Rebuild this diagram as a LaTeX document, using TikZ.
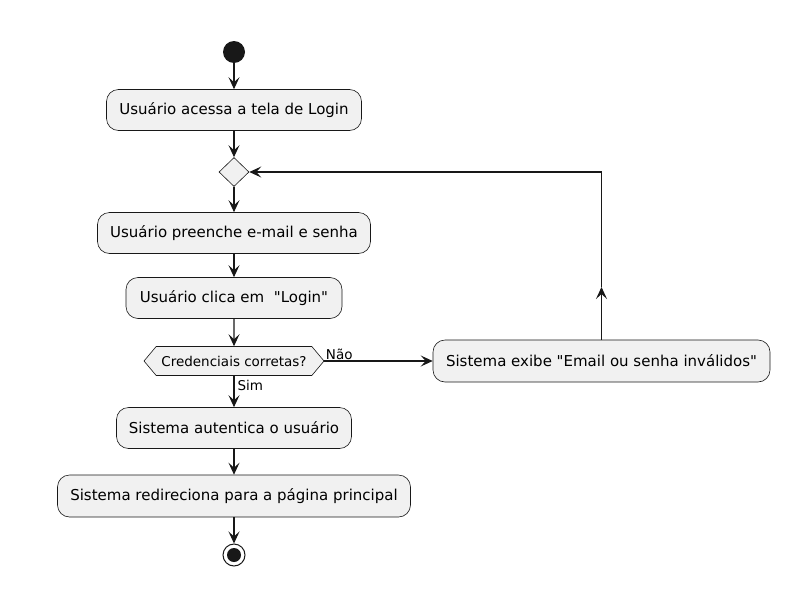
\documentclass[tikz,border=0pt]{standalone}
\usepackage{fontspec}
\setmainfont{DejaVu Sans}
\usetikzlibrary{arrows.meta,shapes.geometric,shapes.misc,shapes.symbols}
\definecolor{boxfill}{HTML}{F1F1F1}
\definecolor{lin}{HTML}{181818}
\tikzset{
  act/.style={draw=lin, fill=boxfill, rounded corners=12pt, line width=0.6pt, minimum height=41pt, inner xsep=0pt, font=\fontsize{15}{18}\selectfont, text=black},
  flow/.style={draw=lin, line width=1.1pt, -{Stealth[length=12pt,width=11pt,inset=5pt]}},
  lbl/.style={font=\fontsize{13.5}{16}\selectfont, inner sep=1pt},
}
\begin{document}
\begin{tikzpicture}[x=1pt,y=-1pt]
\useasboundingbox (0,0) rectangle (808,613);
\node[circle, fill=lin, minimum size=22pt, inner sep=0pt] (start) at (234,52) {};
\node[act, minimum width=255pt] (a1) at (234,110) {Usuário acessa a tela de Login};
\node[diamond, draw=lin, fill=boxfill, line width=0.6pt, minimum width=30pt, minimum height=29pt, inner sep=0pt] (d1) at (234,172) {};
\node[act, minimum width=273pt] (a2) at (234,233) {Usuário preenche e-mail e senha};
\node[act, minimum width=216pt] (a3) at (234,298) {Usuário clica em\ \ \textquotedbl Login\textquotedbl};
\node[draw=lin, fill=boxfill, line width=0.6pt, minimum width=180pt, minimum height=29pt, inner sep=0pt, font=\fontsize{13.5}{16}\selectfont, signal, signal to=east and west, signal pointer angle=100] (c1) at (234,361) {Credenciais corretas?};
\node[act, minimum width=337pt, minimum height=42pt] (a4) at (601.5,361) {Sistema exibe \textquotedbl Email ou senha inválidos\textquotedbl};
\node[act, minimum width=235pt] (a5) at (234,428) {Sistema autentica o usuário};
\node[act, minimum width=353pt, minimum height=42pt] (a6) at (234,496) {Sistema redireciona para a página principal};
\node[circle, draw=lin, fill=white, line width=1pt, minimum size=22pt, inner sep=0pt] (stop) at (234,555) {};
\node[circle, fill=lin, minimum size=14pt, inner sep=0pt] (stopin) at (stop.center) {};
\coordinate (tr) at (601.5,172);
\coordinate (mid) at (601.5,287);
\draw[flow] (start) -- (a1);
\draw[flow] (a1) -- (d1);
\draw[flow] (d1) -- (a2);
\draw[flow] (a2) -- (a3);
\draw[flow] (a3) -- (c1);
\draw[flow] (c1.east) -- node[lbl, pos=0.0, anchor=south west] {Não} (a4.west);
\draw[flow] (c1.south) -- node[lbl, pos=0.3, anchor=west, xshift=2pt] {Sim} (a5);
\draw[flow] (a5) -- (a6);
\draw[flow] (a6) -- (stop);
\draw[flow] (a4.north) -- (mid);
\draw[flow] (mid) -- (tr) -- (d1.east);
\end{tikzpicture}
\end{document}
